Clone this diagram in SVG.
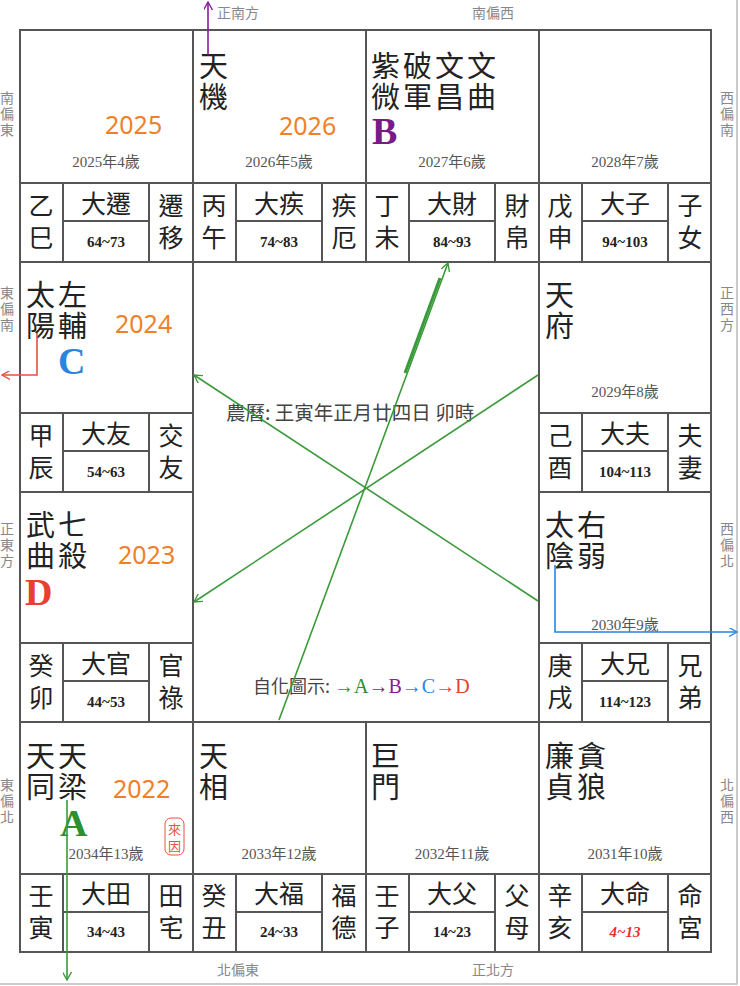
<svg xmlns="http://www.w3.org/2000/svg" width="740" height="986" viewBox="0 0 740 986">
<style>
.g{fill:none;stroke:#555;stroke-width:2}
.s{font-family:"Noto Sans CJK TC","Noto Sans CJK SC",sans-serif;font-size:29px;fill:#222}
.st{font-family:"Noto Sans CJK TC",sans-serif;font-size:25px;fill:#222;text-anchor:middle}
.yr{font-family:"Noto Sans","Open Sans",sans-serif;font-size:25px;fill:#f07f2a}
.age{font-family:"Liberation Serif","Noto Sans CJK TC",serif;font-size:15px;fill:#555;text-anchor:middle}
.rg{font-family:"Liberation Serif",serif;font-size:15px;font-weight:bold;fill:#222;text-anchor:middle}
.dir{font-family:"Noto Sans CJK TC",sans-serif;font-size:14px;fill:#888;text-anchor:middle}
.L{font-family:"Liberation Serif",serif;font-size:38px;font-weight:bold}
.ln{fill:none;stroke-width:1.6}
</style>
<defs>
<marker id="ag" viewBox="0 0 10 10" refX="9" refY="5" markerWidth="9" markerHeight="9" orient="auto" markerUnits="userSpaceOnUse"><path d="M0,0L9,5L0,10" fill="none" stroke="#3a9a3a" stroke-width="1.5"/></marker>
<marker id="ap" viewBox="0 0 10 10" refX="9" refY="5" markerWidth="9" markerHeight="9" orient="auto" markerUnits="userSpaceOnUse"><path d="M0,0L9,5L0,10" fill="none" stroke="#8a1a9a" stroke-width="1.5"/></marker>
<marker id="ar" viewBox="0 0 10 10" refX="9" refY="5" markerWidth="9" markerHeight="9" orient="auto" markerUnits="userSpaceOnUse"><path d="M0,0L9,5L0,10" fill="none" stroke="#e85040" stroke-width="1.5"/></marker>
<marker id="ab" viewBox="0 0 10 10" refX="9" refY="5" markerWidth="9" markerHeight="9" orient="auto" markerUnits="userSpaceOnUse"><path d="M0,0L9,5L0,10" fill="none" stroke="#2a85e0" stroke-width="1.5"/></marker>
</defs>
<rect width="740" height="986" fill="#fff"/>
<path d="M737,0V984H0" fill="none" stroke="#bbb" stroke-width="1.5"/>
<g id="frame" class="g">
<rect x="20" y="30" width="691" height="922"/>
<path d="M193,30V262M366,30V262M539,30V262M193,722V952M366,722V952M539,722V952M20,262H711M20,492H193M539,492H711M20,722H711M193,262V722M539,262V722"/>
</g>
<g id="dirs">
<text class="dir" x="238" y="18">正南方</text><text class="dir" x="493" y="18">南偏西</text>
<text class="dir" x="238" y="975">北偏東</text><text class="dir" x="493" y="975">正北方</text>
<g class="dir"><text x="7" y="103">南</text><text x="7" y="119">偏</text><text x="7" y="135">東</text>
<text x="7" y="298">東</text><text x="7" y="314">偏</text><text x="7" y="330">南</text>
<text x="7" y="534">正</text><text x="7" y="550">東</text><text x="7" y="566">方</text>
<text x="7" y="790">東</text><text x="7" y="806">偏</text><text x="7" y="822">北</text>
<text x="727" y="103">西</text><text x="727" y="119">偏</text><text x="727" y="135">南</text>
<text x="727" y="298">正</text><text x="727" y="314">西</text><text x="727" y="330">方</text>
<text x="727" y="534">西</text><text x="727" y="550">偏</text><text x="727" y="566">北</text>
<text x="727" y="790">北</text><text x="727" y="806">偏</text><text x="727" y="822">西</text></g>
</g>
<g id="p-si">
<text class="yr" x="105" y="134">2025</text><text class="age" x="106" y="167">2025年4歲</text>
<path class="g" d="M20,183H193M63,183V262M149,183V262M63,221H149"/>
<text class="st" x="41" y="215">乙</text><text class="st" x="41" y="247">巳</text>
<text class="st" x="106" y="213">大遷</text><text class="rg" x="106" y="247">64~73</text>
<text class="st" x="171" y="215">遷</text><text class="st" x="171" y="247">移</text>
</g>
<g id="p-wu">
<text class="s" x="199" y="77">天</text><text class="s" x="199" y="108">機</text>
<text class="yr" x="279" y="135">2026</text><text class="age" x="279" y="167">2026年5歲</text>
<path class="g" d="M193,183H366M236,183V262M322,183V262M236,221H322"/>
<text class="st" x="214" y="215">丙</text><text class="st" x="214" y="247">午</text>
<text class="st" x="279" y="213">大疾</text><text class="rg" x="279" y="247">74~83</text>
<text class="st" x="344" y="215">疾</text><text class="st" x="344" y="247">厄</text>
</g>
<g id="p-wei">
<text class="s" x="371" y="77">紫</text><text class="s" x="403" y="77">破</text><text class="s" x="435" y="77">文</text><text class="s" x="467" y="77">文</text>
<text class="s" x="371" y="108">微</text><text class="s" x="403" y="108">軍</text><text class="s" x="435" y="108">昌</text><text class="s" x="467" y="108">曲</text>
<text class="L" x="372" y="144" fill="#7a1a8a">B</text><text class="age" x="452" y="167">2027年6歲</text>
<path class="g" d="M366,183H539M409,183V262M495,183V262M409,221H495"/>
<text class="st" x="387" y="215">丁</text><text class="st" x="387" y="247">未</text>
<text class="st" x="452" y="213">大財</text><text class="rg" x="452" y="247">84~93</text>
<text class="st" x="517" y="215">財</text><text class="st" x="517" y="247">帛</text>
</g>
<g id="p-shen">
<text class="age" x="625" y="167">2028年7歲</text>
<path class="g" d="M539,183H711M582,183V262M668,183V262M582,221H668"/>
<text class="st" x="560" y="215">戊</text><text class="st" x="560" y="247">申</text>
<text class="st" x="625" y="213">大子</text><text class="rg" x="625" y="247">94~103</text>
<text class="st" x="690" y="215">子</text><text class="st" x="690" y="247">女</text>
</g>
<g id="p-chen">
<text class="s" x="26" y="306">太</text><text class="s" x="58" y="306">左</text><text class="s" x="26" y="337">陽</text><text class="s" x="58" y="337">輔</text>
<text class="yr" x="115" y="333">2024</text><text class="L" x="58" y="374" fill="#2a85e0">C</text>
<path class="g" d="M20,413H193M63,413V492M149,413V492M63,451H149"/>
<text class="st" x="41" y="445">甲</text><text class="st" x="41" y="477">辰</text>
<text class="st" x="106" y="443">大友</text><text class="rg" x="106" y="477">54~63</text>
<text class="st" x="171" y="445">交</text><text class="st" x="171" y="477">友</text>
</g>
<g id="p-you">
<text class="s" x="545" y="306">天</text><text class="s" x="545" y="337">府</text>
<text class="age" x="625" y="397">2029年8歲</text>
<path class="g" d="M539,413H711M582,413V492M668,413V492M582,451H668"/>
<text class="st" x="560" y="445">己</text><text class="st" x="560" y="477">酉</text>
<text class="st" x="625" y="443">大夫</text><text class="rg" x="625" y="477">104~113</text>
<text class="st" x="690" y="445">夫</text><text class="st" x="690" y="477">妻</text>
</g>
<g id="p-mao">
<text class="s" x="26" y="536">武</text><text class="s" x="58" y="536">七</text><text class="s" x="26" y="567">曲</text><text class="s" x="58" y="567">殺</text>
<text class="yr" x="118" y="564">2023</text><text class="L" x="25" y="605" fill="#e84030">D</text>
<path class="g" d="M20,643H193M63,643V722M149,643V722M63,681H149"/>
<text class="st" x="41" y="675">癸</text><text class="st" x="41" y="707">卯</text>
<text class="st" x="106" y="673">大官</text><text class="rg" x="106" y="707">44~53</text>
<text class="st" x="171" y="675">官</text><text class="st" x="171" y="707">祿</text>
</g>
<g id="p-xu">
<text class="s" x="545" y="536">太</text><text class="s" x="577" y="536">右</text><text class="s" x="545" y="567">陰</text><text class="s" x="577" y="567">弱</text>
<text class="age" x="625" y="630">2030年9歲</text>
<path class="g" d="M539,643H711M582,643V722M668,643V722M582,681H668"/>
<text class="st" x="560" y="675">庚</text><text class="st" x="560" y="707">戌</text>
<text class="st" x="625" y="673">大兄</text><text class="rg" x="625" y="707">114~123</text>
<text class="st" x="690" y="675">兄</text><text class="st" x="690" y="707">弟</text>
</g>
<g id="p-yin">
<text class="s" x="26" y="767">天</text><text class="s" x="58" y="767">天</text><text class="s" x="26" y="798">同</text><text class="s" x="58" y="798">梁</text>
<text class="yr" x="113" y="798">2022</text><text class="L" x="60" y="836" fill="#2a9030">A</text>
<text class="age" x="106" y="859">2034年13歲</text>
<rect x="165" y="818" width="19" height="37" rx="6" fill="none" stroke="#e85040" stroke-width="1"/>
<text x="174.5" y="834" font-family="Noto Sans CJK TC,sans-serif" font-size="13" fill="#e85040" text-anchor="middle">來</text>
<text x="174.5" y="851" font-family="Noto Sans CJK TC,sans-serif" font-size="13" fill="#e85040" text-anchor="middle">因</text>
<path class="g" d="M20,874H193M63,874V952M149,874V952M63,912H149"/>
<text class="st" x="41" y="905">壬</text><text class="st" x="41" y="937">寅</text>
<text class="st" x="106" y="903">大田</text><text class="rg" x="106" y="937">34~43</text>
<text class="st" x="171" y="905">田</text><text class="st" x="171" y="937">宅</text>
</g>
<g id="p-chou">
<text class="s" x="199" y="767">天</text><text class="s" x="199" y="798">相</text>
<text class="age" x="279" y="859">2033年12歲</text>
<path class="g" d="M193,874H366M236,874V952M322,874V952M236,912H322"/>
<text class="st" x="214" y="905">癸</text><text class="st" x="214" y="937">丑</text>
<text class="st" x="279" y="903">大福</text><text class="rg" x="279" y="937">24~33</text>
<text class="st" x="344" y="905">福</text><text class="st" x="344" y="937">德</text>
</g>
<g id="p-zi">
<text class="s" x="371" y="767">巨</text><text class="s" x="371" y="798">門</text>
<text class="age" x="452" y="859">2032年11歲</text>
<path class="g" d="M366,874H539M409,874V952M495,874V952M409,912H495"/>
<text class="st" x="387" y="905">壬</text><text class="st" x="387" y="937">子</text>
<text class="st" x="452" y="903">大父</text><text class="rg" x="452" y="937">14~23</text>
<text class="st" x="517" y="905">父</text><text class="st" x="517" y="937">母</text>
</g>
<g id="p-hai">
<text class="s" x="545" y="767">廉</text><text class="s" x="577" y="767">貪</text><text class="s" x="545" y="798">貞</text><text class="s" x="577" y="798">狼</text>
<text class="age" x="625" y="859">2031年10歲</text>
<path class="g" d="M539,874H711M582,874V952M668,874V952M582,912H668"/>
<text class="st" x="560" y="905">辛</text><text class="st" x="560" y="937">亥</text>
<text class="st" x="625" y="903">大命</text><text x="625" y="937" font-family="Liberation Serif,serif" font-size="15" font-weight="bold" font-style="italic" fill="#e83030" text-anchor="middle">4~13</text>
<text class="st" x="690" y="905">命</text><text class="st" x="690" y="937">宮</text>
</g>
<g id="center">
<text x="226" y="420" font-family="Noto Sans CJK TC,sans-serif" font-size="19.5" fill="#444">農曆: 王寅年正月廿四日 卯時</text>
<text x="253" y="693" font-family="Noto Sans CJK TC,sans-serif" font-size="18" fill="#444">自化圖示: <tspan font-family="Liberation Serif,serif" font-size="20" fill="#2a9030">→A</tspan><tspan font-family="Liberation Serif,serif" font-size="20" fill="#8a1a9a">→B</tspan><tspan font-family="Liberation Serif,serif" font-size="20" fill="#2a85e0">→C</tspan><tspan font-family="Liberation Serif,serif" font-size="20" fill="#e84030">→D</tspan></text>
</g>
<g id="connectors">
<path class="ln" stroke="#3a9a3a" d="M279,720L448,263" marker-end="url(#ag)"/>
<path fill="none" stroke="#3a9a3a" stroke-width="3" d="M405,373L440,278"/>
<path class="ln" stroke="#3a9a3a" d="M538,601L194,375" marker-end="url(#ag)"/>
<path class="ln" stroke="#3a9a3a" d="M538,375L194,602" marker-end="url(#ag)"/>
<path class="ln" stroke="#3a9a3a" d="M67,800V980" marker-end="url(#ag)"/>
<path class="ln" stroke="#8a1a9a" d="M208,55V2" marker-end="url(#ap)"/>
<path class="ln" stroke="#e85040" d="M37,333V375H2" marker-end="url(#ar)"/>
<path class="ln" stroke="#2a85e0" d="M555,565V632H737" marker-end="url(#ab)"/>
</g>
</svg>
